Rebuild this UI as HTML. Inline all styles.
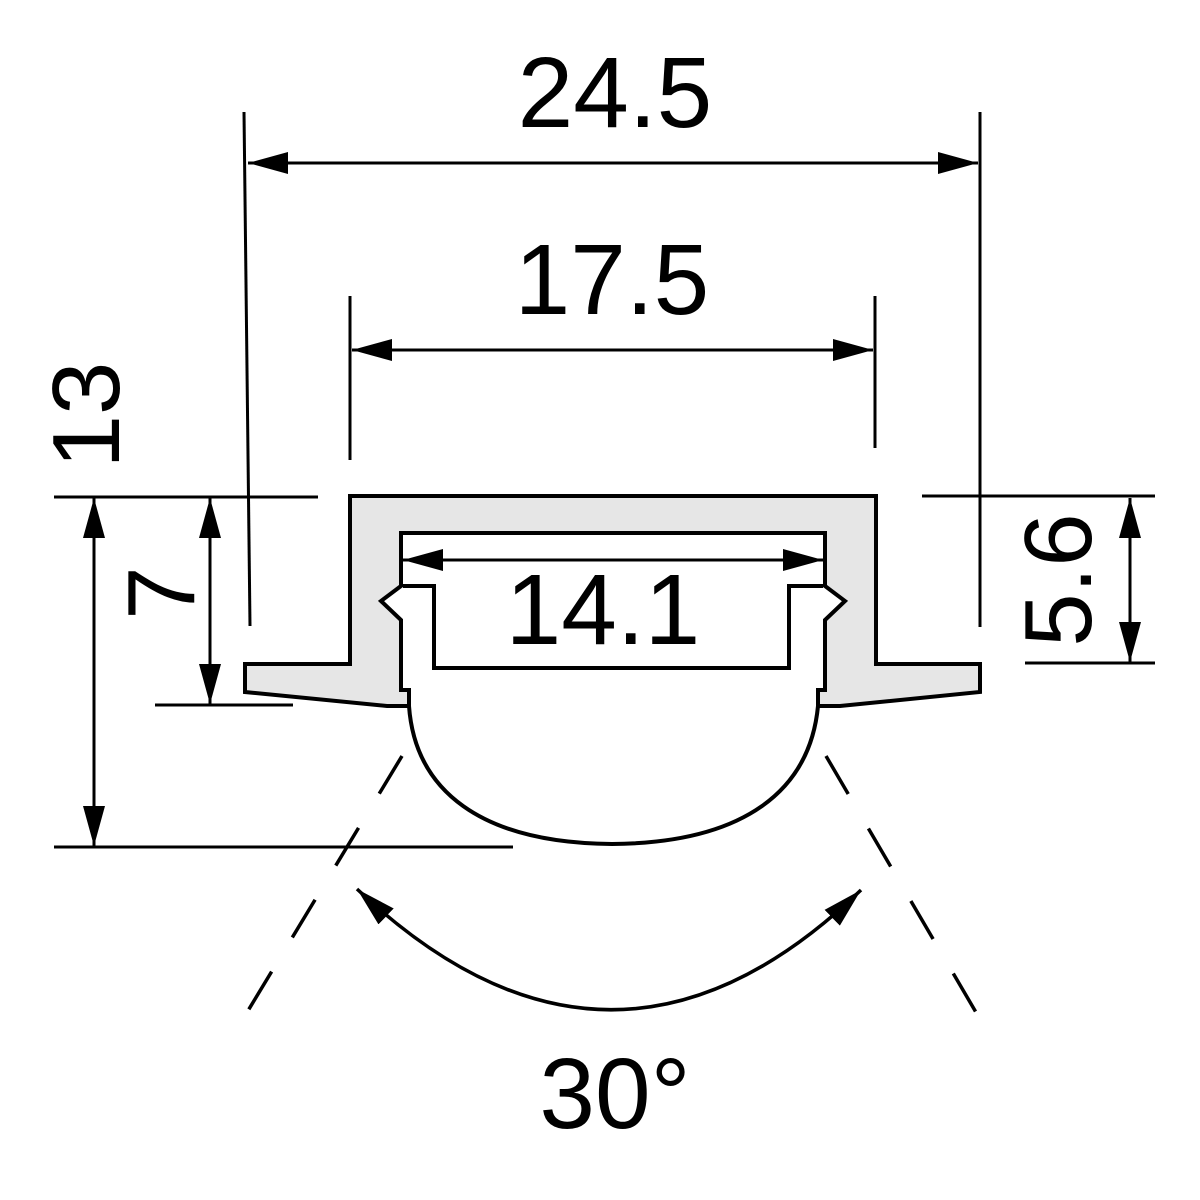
<!DOCTYPE html>
<html><head><meta charset="utf-8"><style>html,body{margin:0;padding:0;background:#fff}svg{display:block}</style></head>
<body>
<svg width="1200" height="1200" viewBox="0 0 1200 1200" xmlns="http://www.w3.org/2000/svg">
<defs>
<marker id="a" viewBox="0 0 40 22" refX="40" refY="11" markerWidth="40" markerHeight="22" markerUnits="userSpaceOnUse" orient="auto-start-reverse"><path d="M0,0 L40,11 L0,22 Z" fill="#000"/></marker>
</defs>
<g stroke="#000" stroke-width="3" fill="none">
<path d="M350,496 L876,496 L876,664 L980,664 L980,692 L840,706 L818,706 L818,690 L825,690 L825,620 L845,601 L825,586 L825,533 L401,533 L401,586 L381,601 L401,620 L401,690 L409,690 L409,706 L387,706 L245,692 L245,664 L350,664 Z" fill="#e6e6e6" stroke-width="4"/>
<path d="M403,586 L434,586 L434,668 L789,668 L789,586 L823,586" stroke-width="4"/>
<path d="M387,706 L409,706 C415,790 480,843 612,844 C745,843 810,790 818,706 L840,706" stroke-width="4"/>
<path d="M402,756 L246,1014" stroke-dasharray="44 40" stroke-width="3.5"/>
<path d="M826,756 L977,1014" stroke-dasharray="44 40" stroke-width="3.5"/>
<path d="M357,889 Q612,1130 861,890" marker-start="url(#a)" marker-end="url(#a)" stroke-width="3.5"/>
<path d="M244,112 L250,626"/>
<path d="M980,112 L980,627"/>
<path d="M248,163 L978,163" marker-start="url(#a)" marker-end="url(#a)"/>
<path d="M350,296 L350,460"/>
<path d="M875,296 L875,448"/>
<path d="M352,350 L873,350" marker-start="url(#a)" marker-end="url(#a)"/>
<path d="M403,560 L823,560" marker-start="url(#a)" marker-end="url(#a)"/>
<path d="M54,497 L318,497"/>
<path d="M155,705 L293,705"/>
<path d="M54,847 L513,847"/>
<path d="M94,498 L94,846" marker-start="url(#a)" marker-end="url(#a)"/>
<path d="M210,498 L210,704" marker-start="url(#a)" marker-end="url(#a)"/>
<path d="M922,496 L1155,496"/>
<path d="M1025,663 L1155,663"/>
<path d="M1130,498 L1130,662" marker-start="url(#a)" marker-end="url(#a)"/>
</g>
<g font-family="'Liberation Sans',Arial,sans-serif" font-size="100" fill="#000" text-anchor="middle">
<text x="615" y="127">24.5</text>
<text x="612" y="314">17.5</text>
<text x="603" y="644">14.1</text>
<text x="615" y="1128">30°</text>
</g>
<g font-family="'Liberation Sans',Arial,sans-serif" font-size="96" fill="#000" text-anchor="middle">
<text transform="translate(119,415) rotate(-90)">13</text>
<text transform="translate(194,593) rotate(-90)">7</text>
<text transform="translate(1091,580) rotate(-90)">5.6</text>
</g>
</svg>
</body></html>
